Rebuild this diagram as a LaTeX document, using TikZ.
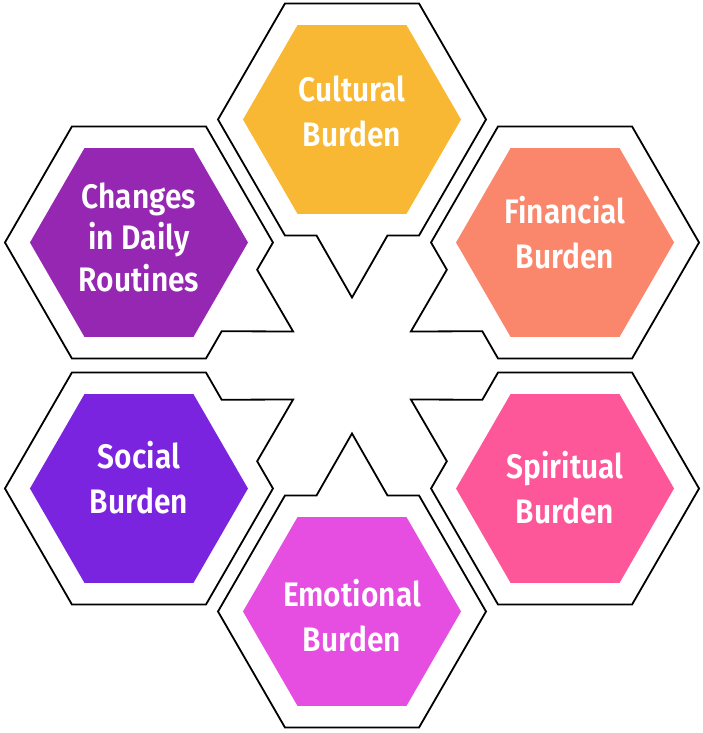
\documentclass[tikz,border=0pt]{standalone}
\usepackage{fontspec}
\setmainfont{Fira Sans}[BoldFont={* SemiBold}, FakeStretch=0.88]

\definecolor{cultural}{HTML}{F9B833}
\definecolor{financial}{HTML}{FA876B}
\definecolor{spiritual}{HTML}{FD5799}
\definecolor{emotional}{HTML}{E54EE0}
\definecolor{social}{HTML}{7B24E0}
\definecolor{routines}{HTML}{9527B3}

\begin{document}
\begin{tikzpicture}[x=1pt, y=1pt, line width=1.8pt,
                    hex text/.style={inner sep=0pt, text=white, align=center,
                    text depth=0pt, font=\fontsize{34}{45}\selectfont\bfseries},
                    lift/.style={text height=#1}]

  \useasboundingbox (-352,-367.5) rectangle (350,365.5);

  % outlines with pointer to the middle, and the coloured hexagons
  \foreach \a/\c in {90/cultural,30/financial,-30/spiritual,-90/emotional,-150/social,150/routines}
  {
    \draw[shift={(\a:246)}, rotate=\a-90, line join=miter]
      (0:134) -- (60:134) -- (120:134) -- (180:134) -- (240:134)
      -- (-35.5,-116) -- (0,-178) -- (35.5,-116) -- (300:134) -- cycle;
    \fill[\c, shift={(\a:246)}]
      (0:109) -- (60:109) -- (120:109) -- (180:109) -- (240:109) -- (300:109) -- cycle;
  }

  \node[hex text, lift=55pt] (1) at (90:246) {Cultural\\Burden};
  \node[hex text, lift=53pt] (2) at (30:246) {Financial\\Burden};
  \node[hex text, lift=70pt] (3) at (-30:246) {Spiritual\\Burden};
  \node[hex text, lift=79pt] (4) at (-90:246) {Emotional\\Burden};
  \node[hex text, lift=50pt] (5) at (-150:246) {Social\\Burden};
  \node[hex text, lift=98pt, font=\fontsize{34}{41.5}\selectfont\bfseries]
    (6) at (150:246) {Changes\\in Daily\\Routines};

\end{tikzpicture}
\end{document}
